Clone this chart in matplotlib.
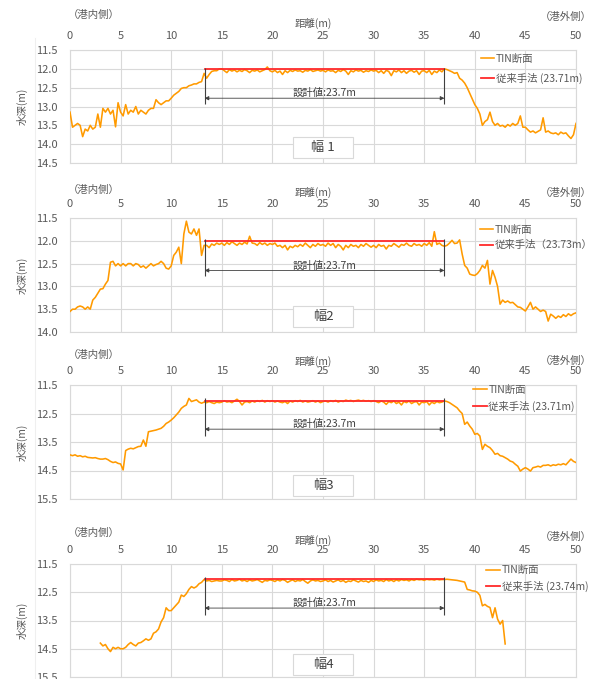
import matplotlib
matplotlib.use('Agg')
import matplotlib.pyplot as plt
import numpy as np
from matplotlib.patches import Rectangle

plt.rcParams['font.family'] = ['Noto Sans CJK JP', 'DejaVu Sans']

# ---- data: water depth (m) sampled every 0.25 m along the section ----
STEP = 0.25

start_1 = 0.0
depth_1 = [
    13.15, 13.55, 13.5, 13.45, 13.5, 13.8, 13.6, 13.65, 13.5, 13.6, 13.55, 13.2, 13.55, 13.05, 13.15, 13.05, 13.2, 13.1, 13.54, 12.9,
    13.15, 13.25, 12.95, 13.2, 13.1, 13.15, 13.0, 13.2, 13.1, 13.15, 13.2, 13.1, 13.05, 13.05, 12.82, 12.9, 12.95, 12.9, 12.85, 12.85,
    12.78, 12.7, 12.65, 12.6, 12.52, 12.5, 12.5, 12.45, 12.43, 12.4, 12.4, 12.36, 12.34, 12.12, 12.25, 12.15, 12.07, 12.05, 12.05, 12.0,
    12.0, 12.05, 12.1, 12.02, 12.06, 12.03, 12.08, 12.04, 12.07, 12.02, 12.05, 12.1, 12.04, 12.06, 12.03, 12.08, 12.05, 12.02, 11.95, 12.05,
    12.08, 12.04, 12.1, 12.06, 12.15, 12.05, 12.1, 12.04, 12.07, 12.03, 12.06, 12.05, 12.09, 12.04, 12.06, 12.02, 12.07, 12.05, 12.03, 12.06,
    12.04, 12.08, 12.03, 12.06, 12.05, 12.1, 12.04, 12.07, 12.02, 12.06, 12.15, 12.05, 12.08, 12.03, 12.06, 12.04, 12.09, 12.05, 12.07, 12.03,
    12.06, 12.04, 12.1, 12.05, 12.12, 12.04, 12.07, 12.18, 12.05, 12.08, 12.03, 12.1, 12.05, 12.12, 12.06, 12.04, 12.09, 12.05, 12.15, 12.06,
    12.05, 12.1, 12.04, 12.15, 12.06, 12.1, 12.03, 12.08, 12.0, 12.02, 12.05, 12.08, 12.12, 12.1, 12.25, 12.3, 12.38, 12.5, 12.65, 12.8,
    12.95, 13.05, 13.2, 13.5, 13.4, 13.35, 13.15, 13.4, 13.5, 13.45, 13.52, 13.5, 13.55, 13.48, 13.52, 13.45, 13.5, 13.45, 13.25, 13.55,
    13.55, 13.62, 13.68, 13.65, 13.7, 13.66, 13.62, 13.3, 13.68, 13.65, 13.7, 13.72, 13.7, 13.75, 13.68, 13.72, 13.7, 13.78, 13.85, 13.75,
    13.45,
]

start_2 = 0.0
depth_2 = [
    13.55, 13.5, 13.5, 13.45, 13.43, 13.45, 13.5, 13.45, 13.5, 13.3, 13.24, 13.15, 13.06, 13.05, 12.95, 12.87, 12.47, 12.45, 12.55, 12.5,
    12.55, 12.5, 12.55, 12.5, 12.5, 12.55, 12.5, 12.52, 12.58, 12.55, 12.6, 12.55, 12.5, 12.55, 12.52, 12.5, 12.45, 12.5, 12.6, 12.62,
    12.55, 12.32, 12.25, 12.14, 12.5, 11.85, 11.57, 11.81, 11.85, 11.74, 11.88, 11.74, 12.32, 12.1, 12.1, 12.15, 12.07, 12.1, 12.05, 12.08,
    12.05, 12.1, 12.04, 12.08, 12.02, 12.06, 12.1, 12.05, 12.08, 12.03, 12.07, 11.9, 12.05, 12.06, 12.1, 12.04, 12.08, 12.05, 12.1, 12.06,
    12.08, 12.05, 12.12, 12.1, 12.15, 12.1, 12.2, 12.12, 12.15, 12.1, 12.13, 12.08, 12.12, 12.05, 12.1, 12.15, 12.08, 12.12, 12.06, 12.1,
    12.08, 12.12, 12.05, 12.1, 12.06, 12.15, 12.08, 12.12, 12.2, 12.1, 12.15, 12.08, 12.12, 12.1, 12.15, 12.08, 12.12, 12.06, 12.1, 12.14,
    12.1, 12.15, 12.08, 12.12, 12.1, 12.18, 12.1, 12.12, 12.06, 12.1, 12.14, 12.08, 12.1, 12.05, 12.1, 12.12, 12.06, 12.1, 12.08, 12.12,
    12.06, 12.1, 12.04, 12.12, 11.8, 12.08, 12.05, 12.1, 12.12, 12.1, 12.05, 11.99, 12.06, 12.05, 11.98, 12.29, 12.54, 12.6, 12.73, 12.75,
    12.76, 12.72, 12.65, 12.54, 12.6, 12.43, 12.95, 12.65, 12.8, 13.0, 13.39, 13.3, 13.35, 13.32, 13.36, 13.35, 13.4, 13.45, 13.46, 13.5,
    13.54, 13.45, 13.35, 13.5, 13.45, 13.5, 13.55, 13.52, 13.55, 13.76, 13.61, 13.65, 13.7, 13.65, 13.68, 13.62, 13.66, 13.6, 13.64, 13.6,
    13.58,
]

start_3 = 0.0
depth_3 = [
    13.95, 13.98, 13.95, 14.0, 13.98, 14.02, 14.0, 14.04, 14.05, 14.06, 14.05, 14.08, 14.1, 14.1, 14.08, 14.12, 14.18, 14.22, 14.2, 14.25,
    14.27, 14.48, 13.8, 13.75, 13.72, 13.74, 13.7, 13.66, 13.65, 13.43, 13.65, 13.14, 13.12, 13.1, 13.08, 13.05, 13.02, 12.95, 12.85, 12.8,
    12.73, 12.65, 12.55, 12.45, 12.32, 12.25, 12.2, 11.97, 12.08, 12.05, 12.02, 12.1, 12.14, 12.1, 12.12, 12.08, 12.12, 12.15, 12.1, 12.12,
    12.1, 12.05, 12.1, 12.08, 12.12, 12.06, 12.0, 12.08, 12.2, 12.1, 12.08, 12.12, 12.06, 12.1, 12.05, 12.08, 12.04, 12.1, 12.05, 12.08,
    12.05, 12.1, 12.06, 12.1, 12.12, 12.08, 12.15, 12.06, 12.1, 12.05, 12.08, 12.04, 12.1, 12.06, 12.1, 12.08, 12.05, 12.1, 12.06, 12.12,
    12.08, 12.06, 12.1, 12.05, 12.08, 12.04, 12.1, 12.06, 12.08, 12.03, 12.06, 12.04, 12.08, 12.05, 12.03, 12.06, 12.04, 12.07, 12.05, 12.08,
    12.05, 12.08, 12.12, 12.06, 12.1, 12.18, 12.08, 12.12, 12.06, 12.15, 12.1, 12.2, 12.08, 12.12, 12.06, 12.15, 12.1, 12.08, 12.2, 12.1,
    12.12, 12.08, 12.2, 12.1, 12.15, 12.08, 12.12, 12.1, 12.06, 12.08, 12.12, 12.18, 12.24, 12.3, 12.41, 12.5, 12.88, 12.8, 12.94, 13.05,
    13.23, 13.2, 13.29, 13.76, 13.58, 13.65, 13.7, 13.8, 13.93, 13.9, 13.98, 14.0, 14.05, 14.1, 14.17, 14.2, 14.28, 14.35, 14.52, 14.45,
    14.4, 14.45, 14.52, 14.4, 14.38, 14.35, 14.38, 14.32, 14.32, 14.3, 14.34, 14.3, 14.32, 14.28, 14.3, 14.26, 14.3, 14.2, 14.1, 14.18,
    14.22,
]

start_4 = 3.0
depth_4 = [
    14.3, 14.4, 14.35, 14.5, 14.6, 14.45, 14.5, 14.45,
    14.5, 14.5, 14.45, 14.35, 14.28, 14.35, 14.4, 14.3, 14.28, 14.22, 14.15, 14.2, 14.15, 13.95, 13.9, 13.8, 13.55, 13.4, 13.05, 13.15,
    13.15, 13.05, 12.95, 12.85, 12.6, 12.65, 12.55, 12.4, 12.3, 12.35, 12.3, 12.2, 12.15, 12.05, 12.1, 12.08, 12.12, 12.1, 12.08, 12.1,
    12.1, 12.06, 12.08, 12.12, 12.05, 12.1, 12.08, 12.04, 12.1, 12.07, 12.12, 12.06, 12.1, 12.08, 12.05, 12.1, 12.15, 12.08, 12.1, 12.06,
    12.08, 12.12, 12.06, 12.1, 12.05, 12.08, 12.15, 12.1, 12.06, 12.12, 12.08, 12.1, 12.05, 12.12, 12.18, 12.1, 12.06, 12.1, 12.08, 12.12,
    12.1, 12.06, 12.12, 12.08, 12.14, 12.1, 12.06, 12.12, 12.08, 12.15, 12.1, 12.12, 12.06, 12.1, 12.14, 12.08, 12.12, 12.1, 12.15, 12.08,
    12.12, 12.06, 12.1, 12.08, 12.12, 12.05, 12.1, 12.07, 12.12, 12.06, 12.1, 12.05, 12.08, 12.06, 12.1, 12.05, 12.08, 12.04, 12.06, 12.05,
    12.08, 12.04, 12.06, 12.05, 12.07, 12.04, 12.06, 12.05,
    12.05, 12.04, 12.05, 12.06, 12.07, 12.08, 12.1, 12.12, 12.14, 12.4, 12.42, 12.45, 12.46, 12.5, 12.61, 12.98, 12.93, 13.0, 13.04, 13.4,
    13.05, 13.45, 13.63, 13.5,
    14.33,
]

starts = [start_1, start_2, start_3, start_4]
depths = [depth_1, depth_2, depth_3, depth_4]
conv_depth = [12.0, 12.0, 12.05, 12.03]
conv_labels = ['従来手法 (23.71m)', '従来手法（23.73m）', '従来手法 (23.71m)', '従来手法 (23.74m)']
width_names = ['幅 1', '幅2', '幅3', '幅4']
design_from, design_to = 13.3, 37.0
design_label = '設計値:23.7m'
y_max = [14.5, 14.0, 15.5, 15.5]
y_step = [0.5, 0.5, 1.0, 1.0]

# ---- layout (pixel positions in a 601x679 canvas) ----
W, H = 601, 679
ax_left, ax_right = 70, 576
ax_top = [50, 218, 385, 564]
ax_bot = [163, 332, 499, 677]
lbl_in_y = [15, 190, 355, 533]
lbl_dist_y = [23, 192, 361, 540]
lbl_out_y = [17, 193, 361, 537]
arrow_y = [12.78, 12.65, 13.05, 13.06]
vline_bot = [12.93, 12.78, 13.3, 13.3]
leg_anchor = [(0.812, 0.965), (0.81, 0.94), (0.797, 1.0), (0.823, 0.99)]
leg_space = [0.85, 0.5, 0.55, 0.55]
box_y = [0.137, 0.132, 0.12, 0.11]

ORANGE = '#FF9A00'
RED = '#FF2A2A'
GREY = '#595959'
GRID = '#D9D9D9'
DARK = '#404040'

fig = plt.figure(figsize=(W / 100, H / 100), dpi=100)

# faint chart-area border on the left
fig.add_artist(plt.Line2D([35 / W, 35 / W], [0, 1 - 38 / H], color='#EFEFEF', lw=0.8))

for i in range(4):
    ax = fig.add_axes([ax_left / W, 1 - ax_bot[i] / H,
                       (ax_right - ax_left) / W, (ax_bot[i] - ax_top[i]) / H])
    d = np.array(depths[i])
    x = starts[i] + np.arange(len(d)) * STEP

    ax.plot(x, d, color=ORANGE, lw=1.15, label='TIN断面', zorder=3)
    ax.plot([design_from, design_to], [conv_depth[i], conv_depth[i]],
            color=RED, lw=1.3, label=conv_labels[i], zorder=4)

    ax.set_xlim(0, 50)
    ax.set_ylim(y_max[i], 11.5)
    ax.set_xticks(np.arange(0, 51, 5))
    ax.set_yticks(np.arange(11.5, y_max[i] + 0.01, y_step[i]))
    ax.yaxis.set_major_formatter(matplotlib.ticker.FormatStrFormatter('%.1f'))
    ax.xaxis.tick_top()
    ax.tick_params(axis='both', length=0, labelsize=8, labelcolor=GREY)
    ax.tick_params(axis='x', pad=6.5)
    ax.tick_params(axis='y', pad=9)
    ax.grid(True, color=GRID, lw=0.8)
    ax.set_axisbelow(True)
    for s in ax.spines.values():
        s.set_color(GRID)
        s.set_linewidth(0.8)

    # design width dimension
    ax.vlines([design_from, design_to], 11.97, vline_bot[i], color=DARK, lw=0.8, zorder=5)
    ax.annotate('', xy=(design_from, arrow_y[i]), xytext=(design_to, arrow_y[i]),
                arrowprops=dict(arrowstyle='<|-|>', color=DARK, lw=0.6,
                                mutation_scale=6, shrinkA=0, shrinkB=0))
    ax.text((design_from + design_to) / 2, arrow_y[i], design_label, ha='center', va='bottom',
            fontsize=7.5, color=DARK)

    # width name box
    bw, bh = 60 / (ax_right - ax_left), 21 / (ax_bot[i] - ax_top[i])
    ax.add_patch(Rectangle((0.5 - bw / 2, box_y[i] - bh / 2), bw, bh, transform=ax.transAxes,
                           facecolor='white', edgecolor=GRID, lw=0.8, zorder=6))
    ax.text(0.5, box_y[i], width_names[i], transform=ax.transAxes, ha='center', va='center',
            fontsize=9.5, color=DARK, zorder=7)

    leg = ax.legend(loc='upper left', bbox_to_anchor=leg_anchor[i], frameon=False,
                    fontsize=7.5, handlelength=1.3, handletextpad=0.15, borderpad=0,
                    borderaxespad=0, labelspacing=leg_space[i])
    for t in leg.get_texts():
        t.set_color(GREY)

    fig.text(68 / W, 1 - lbl_in_y[i] / H, '（港内側）', ha='left', va='center', fontsize=7.5, color=GREY)
    fig.text(313 / W, 1 - lbl_dist_y[i] / H, '距離(m)', ha='center', va='center', fontsize=7.5, color=GREY)
    fig.text(540 / W, 1 - lbl_out_y[i] / H, '（港外側）', ha='left', va='center', fontsize=7.5, color=GREY)
    fig.text(22 / W, 1 - (ax_top[i] + ax_bot[i]) / 2 / H, '水深(m)', ha='center', va='center',
             rotation=90, fontsize=7.5, color=GREY)

fig.savefig('out.png', dpi=100, facecolor='white')
print('saved')
